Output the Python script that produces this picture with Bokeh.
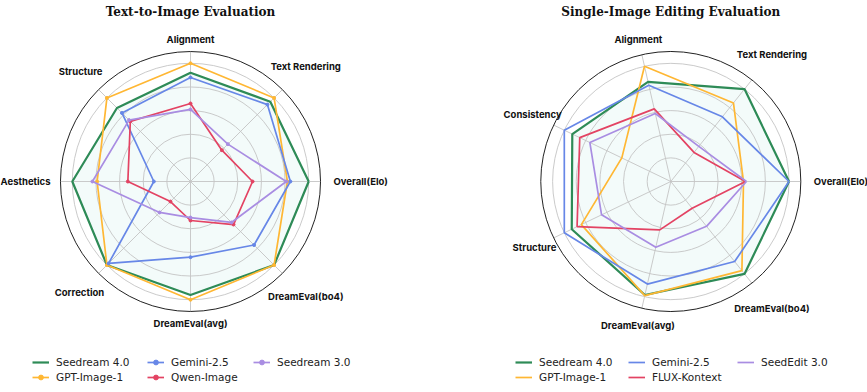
import numpy as np
from bokeh.plotting import figure
from bokeh.layouts import row
from bokeh.models import Legend, LegendItem
from bokeh.core.properties import value
from bokeh.embed import file_html
from bokeh.resources import INLINE

# ---------------- data ----------------
t2i_title = "Text-to-Image Evaluation"
t2i_axes = ["Overall(Elo)", "Text Rendering", "Alignment", "Structure",
            "Aesthetics", "Correction", "DreamEval(avg)", "DreamEval(bo4)"]
t2i_names = ["Seedream 4.0", "GPT-Image-1", "Gemini-2.5", "Qwen-Image", "Seedream 3.0"]
t2i_seedream40 = [1.0, 0.955, 0.92, 0.88, 1.0, 1.0, 0.96, 1.0]
t2i_gpt = [0.82, 1.0, 1.0, 1.0, 0.79, 1.0, 1.0, 1.0]
t2i_gemini = [0.845, 0.92, 0.88, 0.82, 0.31, 0.98, 0.64, 0.76]
t2i_qwen = [0.525, 0.375, 0.66, 0.72, 0.53, 0.24, 0.33, 0.515]
t2i_seedream30 = [0.81, 0.447, 0.61, 0.735, 0.83, 0.37, 0.305, 0.49]

edit_title = "Single-Image Editing Evaluation"
edit_axes = ["Overall(Elo)", "Text Rendering", "Alignment", "Consistency",
             "Structure", "DreamEval(avg)", "DreamEval(bo4)"]
edit_names = ["Seedream 4.0", "GPT-Image-1", "Gemini-2.5", "FLUX-Kontext", "SeedEdit 3.0"]
edit_seedream40 = [1.0, 1.0, 0.865, 0.925, 0.93, 0.985, 1.0]
edit_gpt = [0.615, 0.85, 1.0, 0.46, 0.84, 0.99, 0.965]
edit_gemini = [1.0, 0.70, 0.836, 1.0, 1.0, 0.89, 0.866]
edit_flux = [0.632, 0.315, 0.63, 0.855, 0.88, 0.42, 0.29]
edit_seededit = [0.64, 0.38, 0.59, 0.76, 0.65, 0.57, 0.485]

ring_values = [0.2, 0.4, 0.6, 0.8, 1.0]
r_max = 1.1

colors = ["#2e8b57", "#ffb733", "#6787e7", "#e34363", "#a98de2"]
widths = [2.2, 1.7, 1.7, 1.7, 1.7]

# ---------------- layout constants (pixels) ----------------
H = 390
CY = 181
S = 118.2  # pixels per data unit


def radar(title, axes, names, series, W, cx, markers, leg_cols):
    n = len(axes)
    theta = np.arange(n) * 2 * np.pi / n
    p = figure(width=W, height=H,
               x_range=(-cx / S, (W - cx) / S), y_range=(-(H - CY) / S, CY / S),
               output_backend="svg", toolbar_location=None, min_border=0,
               outline_line_color=None, background_fill_color="white",
               border_fill_color="white")
    p.axis.visible = False
    p.grid.visible = False

    # fill of the first series
    v0 = np.array(series[0])
    p.patch(v0 * np.cos(theta), v0 * np.sin(theta), fill_color="#20b2aa",
            fill_alpha=0.055, line_color=None)

    # grid rings and spokes
    p.circle(x=[0] * len(ring_values), y=[0] * len(ring_values), radius=ring_values,
             fill_color=None, line_color="#c4c4c4", line_width=0.9)
    p.segment(x0=[0] * n, y0=[0] * n, x1=r_max * np.cos(theta), y1=r_max * np.sin(theta),
              line_color="#c4c4c4", line_width=0.9)
    p.circle(x=[0], y=[0], radius=r_max, fill_color=None, line_color="#222222",
             line_width=1.0)

    renderers = []
    for i, (name, vals) in enumerate(zip(names, series)):
        v = np.array(vals)
        xs = v * np.cos(theta)
        ys = v * np.sin(theta)
        xc = np.append(xs, xs[0])
        yc = np.append(ys, ys[0])
        rl = p.line(xc, yc, line_color=colors[i], line_width=widths[i])
        rs = [rl]
        if markers and i > 0:
            sc = p.scatter(xs, ys, size=3, marker="circle", fill_color=colors[i],
                           line_color=colors[i])
            rs.append(sc)
        renderers.append(rs)

    # axis labels
    for k, lab in enumerate(axes):
        th = theta[k]
        c, s = np.cos(th), np.sin(th)
        if abs(s) < 0.05:
            r_px = 143 if c > 0 else 140
            align = "left" if c > 0 else "right"
        else:
            r_px = 142 + abs(np.sin(2 * th)) ** 1.5 * 1.5 * len(lab)
            align = "center"
        p.text(x=[r_px / S * c], y=[r_px / S * s], text=[lab], text_align=align,
               text_baseline="middle", text_font=value("Inter"),
               text_font_style="bold", text_font_size="9.5px", text_color="#111111")

    # title
    p.text(x=[0], y=[(CY - 4) / S], text=[title], text_align="center",
           text_baseline="top", text_font=value("DejaVu Serif"),
           text_font_style="bold", text_font_size="12px", text_color="#111111")

    # legend: three columns
    groups = [[0, 1], [2, 3], [4]]
    for g, (lxp, lyp) in zip(groups, leg_cols):
        items = [LegendItem(label=names[i], renderers=renderers[i]) for i in g]
        leg = Legend(items=items, location=(lxp, lyp), orientation="vertical",
                     label_text_font="DejaVu Sans", label_text_font_size="10.5px",
                     label_text_color="#222222",
                     glyph_width=17, glyph_height=12, label_height=12,
                     label_standoff=7, spacing=3, padding=0, margin=0,
                     border_line_color=None, background_fill_alpha=0)
        p.add_layout(leg)
    return p


p1 = radar(t2i_title, t2i_axes, t2i_names,
           [t2i_seedream40, t2i_gpt, t2i_gemini, t2i_qwen, t2i_seedream30],
           430, 190, True, [(32, 7), (147, 7), (253, 22)])
p2 = radar(edit_title, edit_axes, edit_names,
           [edit_seedream40, edit_gpt, edit_gemini, edit_flux, edit_seededit],
           437, 240.3, False, [(85, 7), (198, 7), (307, 22)])

layout = row(p1, p2)
open("out.html", "w").write(file_html(layout, INLINE))
